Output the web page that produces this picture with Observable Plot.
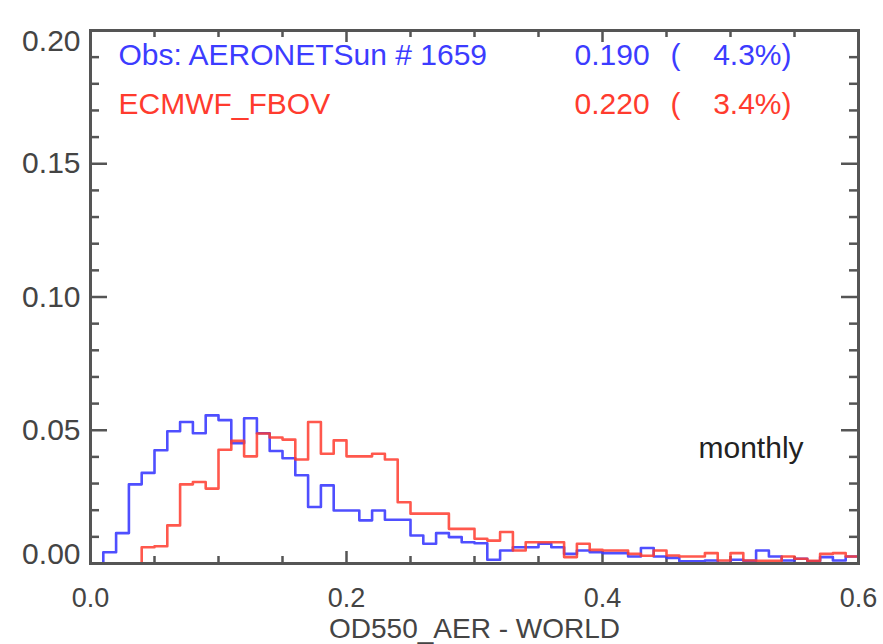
<!DOCTYPE html>
<html>
<head>
<meta charset="utf-8">
<script src="https://cdn.jsdelivr.net/npm/d3@7"></script>
<script src="https://cdn.jsdelivr.net/npm/@observablehq/plot@0.6"></script>
<style>
  html, body { margin: 0; padding: 0; background: #fff; }
  #chart svg { display: block; }
</style>
</head>
<body>
<div id="chart"></div>
<script>
// ---- data ----
const binStarts = [
  0.00, 0.01, 0.02, 0.03, 0.04, 0.05, 0.06, 0.07, 0.08, 0.09,
  0.10, 0.11, 0.12, 0.13, 0.14, 0.15, 0.16, 0.17, 0.18, 0.19,
  0.20, 0.21, 0.22, 0.23, 0.24, 0.25, 0.26, 0.27, 0.28, 0.29,
  0.30, 0.31, 0.32, 0.33, 0.34, 0.35, 0.36, 0.37, 0.38, 0.39,
  0.40, 0.41, 0.42, 0.43, 0.44, 0.45, 0.46, 0.47, 0.48, 0.49,
  0.50, 0.51, 0.52, 0.53, 0.54, 0.55, 0.56, 0.57, 0.58, 0.59
];
const binEnd = 0.60;

const obsValues = [
  0.0000, 0.0042, 0.0114, 0.0297, 0.0340, 0.0425, 0.0496, 0.0531, 0.0489, 0.0556,
  0.0538, 0.0451, 0.0545, 0.0489, 0.0422, 0.0395, 0.0331, 0.0212, 0.0293, 0.0199,
  0.0199, 0.0162, 0.0199, 0.0164, 0.0164, 0.0105, 0.0074, 0.0114, 0.0099, 0.0080,
  0.0076, 0.0014, 0.0049, 0.0061, 0.0061, 0.0074, 0.0061, 0.0036, 0.0049, 0.0042,
  0.0039, 0.0039, 0.0026, 0.0058, 0.0026, 0.0021, 0.0008, 0.0008, 0.0011, 0.0002,
  0.0014, 0.0010, 0.0049, 0.0026, 0.0011, 0.0018, 0.0008, 0.0024, 0.0011, 0.0026
];
const modelValues = [
  0.0000, 0.0000, 0.0000, 0.0000, 0.0061, 0.0065, 0.0143, 0.0297, 0.0306, 0.0281,
  0.0427, 0.0460, 0.0402, 0.0488, 0.0473, 0.0465, 0.0390, 0.0531, 0.0412, 0.0462,
  0.0402, 0.0402, 0.0412, 0.0390, 0.0230, 0.0187, 0.0187, 0.0187, 0.0130, 0.0130,
  0.0093, 0.0086, 0.0118, 0.0049, 0.0080, 0.0080, 0.0080, 0.0024, 0.0074, 0.0051,
  0.0049, 0.0049, 0.0036, 0.0029, 0.0049, 0.0030, 0.0026, 0.0026, 0.0039, 0.0011,
  0.0039, 0.0011, 0.0010, 0.0010, 0.0026, 0.0018, 0.0010, 0.0036, 0.0039, 0.0026
];

const legendNames = ["Obs: AERONETSun # 1659", "ECMWF_FBOV"];
const legendValues = ["0.190", "0.220"];
const legendPercents = ["4.3%)", "3.4%)"];
const seriesColors = ["#3c3cff", "#ff3b2e"];

const xTickLabels = [0.0, 0.2, 0.4, 0.6];
const xMinorTicks = [0.05, 0.10, 0.15, 0.25, 0.30, 0.35, 0.45, 0.50, 0.55];
const yMidLabels = [0.05, 0.10, 0.15];
const yMajorTicks = [0.00, 0.05, 0.10, 0.15, 0.20];
const yMinorTicks = [0.01, 0.02, 0.03, 0.04, 0.06, 0.07, 0.08, 0.09,
                     0.11, 0.12, 0.13, 0.14, 0.16, 0.17, 0.18, 0.19];
const xAxisTitle = "OD550_AER - WORLD";
const annotation = "monthly";

// ---- build step tables ----
function steps(values) {
  const rows = binStarts.map((x, i) => ({x, v: values[i]}));
  rows.push({x: binEnd, v: values[values.length - 1]});
  return rows;
}
const obsSteps = steps(obsValues);
const modelSteps = steps(modelValues);

// ---- layout ----
const W = 883, H = 644;
const mL = 90, mR = 25, mT = 30, mB = 81;
const FW = W - mL - mR, FH = H - mT - mB;
const axisColor = "#555";
const fs = 30;
const rowDy = [25, 74];

const legendRows = legendNames.map((name, i) => ({
  name, value: legendValues[i], pct: legendPercents[i], color: seriesColors[i], row: i
}));

function legendMarks(row) {
  const d = legendRows.filter(r => r.row === row);
  const dy = rowDy[row];
  const common = {fill: "color", fontSize: fs, lineAnchor: "middle", dy};
  return [
    Plot.text(d, {...common, text: "name", frameAnchor: "top-left", dx: 28, textAnchor: "start"}),
    Plot.text(d, {...common, text: "value", frameAnchor: "top-left", dx: 484, textAnchor: "start"}),
    Plot.text(d, {...common, text: () => "(", frameAnchor: "top-left", dx: 580, textAnchor: "start"}),
    Plot.text(d, {...common, text: "pct", frameAnchor: "top-right", dx: -67, textAnchor: "end"})
  ];
}

const chart = Plot.plot({
  width: W,
  height: H,
  marginLeft: mL,
  marginRight: mR,
  marginTop: mT,
  marginBottom: mB,
  style: {fontFamily: "'Liberation Sans', Arial, sans-serif", background: "#fff"},
  x: {domain: [0, 0.6]},
  y: {domain: [0, 0.2]},
  marks: [
    // ticks (inward, all four sides)
    Plot.ruleX(xTickLabels, {x: d => d, insetTop: FH - 12, stroke: axisColor, strokeWidth: 2.5}),
    Plot.ruleX(xTickLabels, {x: d => d, insetBottom: FH - 12, stroke: axisColor, strokeWidth: 2.5}),
    Plot.ruleX(xMinorTicks, {x: d => d, insetTop: FH - 7, stroke: axisColor, strokeWidth: 2.5}),
    Plot.ruleX(xMinorTicks, {x: d => d, insetBottom: FH - 7, stroke: axisColor, strokeWidth: 2.5}),
    Plot.ruleY(yMajorTicks, {y: d => d, insetRight: FW - 17, stroke: axisColor, strokeWidth: 2.5}),
    Plot.ruleY(yMajorTicks, {y: d => d, insetLeft: FW - 17, stroke: axisColor, strokeWidth: 2.5}),
    Plot.ruleY(yMinorTicks, {y: d => d, insetRight: FW - 9, stroke: axisColor, strokeWidth: 2.5}),
    Plot.ruleY(yMinorTicks, {y: d => d, insetLeft: FW - 9, stroke: axisColor, strokeWidth: 2.5}),

    // histograms
    Plot.line(obsSteps, {x: "x", y: "v", curve: "step-after", stroke: seriesColors[0], strokeWidth: 2.6, strokeOpacity: 0.9}),
    Plot.line(modelSteps, {x: "x", y: "v", curve: "step-after", stroke: seriesColors[1], strokeWidth: 2.6, strokeOpacity: 0.85}),

    // frame
    Plot.frame({stroke: axisColor, strokeWidth: 3}),

    // axes labels
    Plot.axisX({ticks: xTickLabels, tickSize: 0, tickPadding: 24, tickFormat: d3.format(".1f"),
                fontSize: 27, fill: "#444", label: null}),
    Plot.axisY({ticks: yMidLabels, tickSize: 0, tickPadding: 10, tickFormat: d3.format(".2f"),
                fontSize: fs, fill: "#444", label: null}),
    Plot.axisY({ticks: [0.20], tickSize: 0, tickPadding: 10, tickFormat: d3.format(".2f"),
                fontSize: fs, fill: "#444", dy: 11, label: null}),
    Plot.axisY({ticks: [0.00], tickSize: 0, tickPadding: 10, tickFormat: d3.format(".2f"),
                fontSize: fs, fill: "#444", dy: -9, label: null}),
    Plot.text([xAxisTitle], {frameAnchor: "bottom", dy: 66, lineAnchor: "middle",
                fontSize: 28, fill: "#444"}),

    // legend
    ...legendMarks(0),
    ...legendMarks(1),

    // annotation
    Plot.text([annotation], {frameAnchor: "top-left", dx: 608, dy: 418, fill: "#222",
                fontSize: fs, lineAnchor: "middle", textAnchor: "start"})
  ]
});
document.getElementById("chart").appendChild(chart);
</script>
</body>
</html>
